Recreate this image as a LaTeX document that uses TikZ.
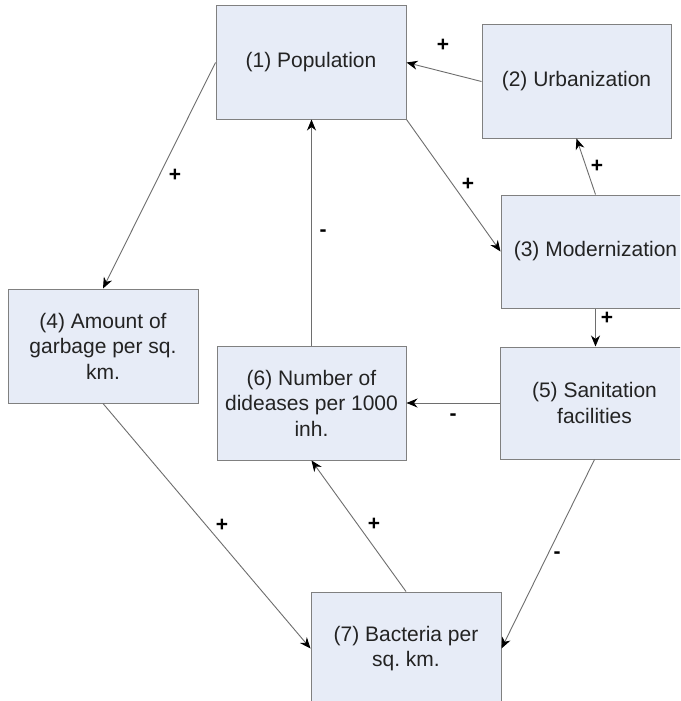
\documentclass[tikz,border=0pt]{standalone}
\usepackage{fontspec}
\setmainfont{Liberation Sans}
\usetikzlibrary{arrows.meta}
\frenchspacing
\definecolor{boxfill}{RGB}{231,236,247}
\definecolor{boxline}{RGB}{128,128,128}
\definecolor{linkline}{RGB}{110,110,110}
\definecolor{boxtext}{RGB}{35,35,35}
\begin{document}
\begin{tikzpicture}[x=1pt,y=-1pt,
  factor/.style={draw=boxline, line width=1pt, fill=boxfill, text=boxtext,
    minimum width=189pt, minimum height=113pt, inner sep=0pt, align=center,
    font=\fontsize{21}{25.5}\selectfont},
  link/.style={draw=linkline, line width=0.9pt,
    -{Stealth[black,length=11pt,width=9pt,inset=3.5pt]}},
  sign/.style={font=\fontsize{21}{21}\selectfont\bfseries, text=black, inner sep=0pt}]
\useasboundingbox (0,0) rectangle (680,701);
\clip (0,0) rectangle (680,701);
\fill[white] (0,0) rectangle (680,701);

% factors
\node[factor, minimum width=190pt] (n1) at (311,62.5) {(1) Population};
\node[factor] (n2) at (576.5,81.5) {(2) Urbanization};
\node[factor] (n3) at (595.5,251.5) {(3) Modernization};
\node[factor, minimum width=190pt, minimum height=114pt] (n4) at (103,346) {(4) Amount of\\garbage per sq.\\km.};
\node[factor, minimum height=112pt] (n5) at (594.5,403) {(5) Sanitation\\facilities};
\node[factor, minimum height=114pt] (n6) at (311.5,403) {(6) Number of\\dideases per 1000\\inh.};
\node[factor, minimum width=190pt] (n7) at (406,648.5) {(7) Bacteria per\\sq. km.\vphantom{g}};

% causal links
\draw[link] (n2.west) -- (n1.east);
\draw[link] (n1.south east) -- (n3.west);
\draw[link] (n3.north) -- (n2.south);
\draw[link] (n3.south) -- (n3.south |- n5.north);
\draw[link] (n6.north) -- (n6.north |- n1.south);
\draw[link] (n5.west) -- (n6.east);
\draw[link] (n1.west) -- (n4.north);
\draw[link] (n4.south) -- (n7.west);
\draw[link] (n7.north) -- (n6.south);
\draw[link] (n5.south) -- (n7.east);

% polarities
\node[sign] (s21) at (443,45) {+};
\node[sign] (s13) at (468,184) {+};
\node[sign] (s32) at (597,166) {+};
\node[sign] (s61) at (323,233) {-};
\node[sign] (s14) at (175,175) {+};
\node[sign] (s35) at (607,318) {+};
\node[sign] (s56) at (453,417) {-};
\node[sign] (s47) at (222,525) {+};
\node[sign] (s76) at (374,524) {+};
\node[sign] (s57) at (557,555) {-};
\end{tikzpicture}
\end{document}
